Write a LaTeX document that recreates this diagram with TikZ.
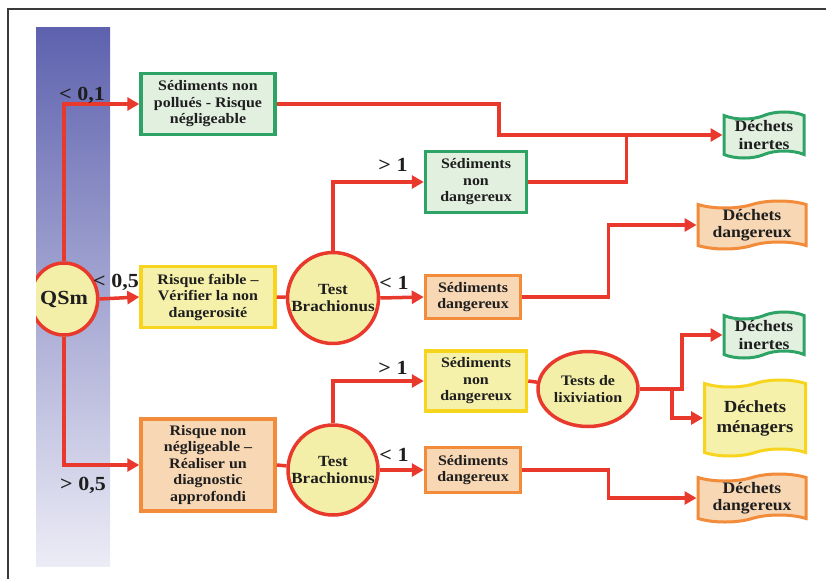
\documentclass[tikz,border=0pt]{standalone}
\usepackage{fontspec}
\setmainfont[FakeStretch=1.1]{Liberation Serif}
\usetikzlibrary{arrows.meta,positioning,shapes.geometric,shapes.symbols,calc}
\definecolor{FlowRed}{HTML}{E8392C}
\definecolor{InkGray}{HTML}{1E1E1E}
\definecolor{FrameGray}{HTML}{3A3A3A}
\definecolor{BarTop}{HTML}{5E62AE}
\definecolor{BarBottom}{HTML}{ECECF6}
\definecolor{SafeGreen}{HTML}{2DA466}
\definecolor{SafeFill}{HTML}{E2F0E0}
\definecolor{WarnYellow}{HTML}{F7D51E}
\definecolor{WarnFill}{HTML}{F5F0AA}
\definecolor{RiskOrange}{HTML}{F28B3A}
\definecolor{RiskFill}{HTML}{F8D7B5}
\definecolor{TestFill}{HTML}{F4EFA8}

\begin{document}
\begin{tikzpicture}[x=1pt, y=-1pt,
        every node/.style={text=InkGray},
        box/.style={rectangle, line width=3.5pt, inner sep=0pt, align=center,
            font=\bfseries\fontsize{14.5}{16.5}\selectfont},
        safebox/.style={box, draw=SafeGreen, fill=SafeFill},
        warnbox/.style={box, draw=WarnYellow, fill=WarnFill},
        riskbox/.style={box, draw=RiskOrange, fill=RiskFill},
        test/.style={ellipse, draw=FlowRed, fill=TestFill, line width=3.5pt, inner sep=0pt,
            align=center, font=\bfseries\fontsize{15.5}{17}\selectfont},
        waste/.style={tape, line width=3pt, inner sep=0pt, align=center, tape bend height=7pt,
            font=\bfseries\fontsize{16}{17.5}\selectfont},
        thr/.style={font=\bfseries\fontsize{20}{20}\selectfont, inner sep=0pt},
        flow/.style={draw=FlowRed, line width=3.5pt, -{Triangle[length=12pt, width=13pt]}},
        link/.style={draw=FlowRed, line width=3.5pt}
    ]
        \useasboundingbox (0,0) rectangle (826,578);

        % Frame and graded QSm scale
        \draw[FrameGray, line width=1.6pt] (8,580) -- (8,9) -- (828,9);
        \shade[top color=BarTop, bottom color=BarBottom] (36,28) rectangle (110,566);

        \begin{scope}
            \clip (36,0) rectangle (826,578);
            \node[test, minimum width=62pt, minimum height=72pt, font=\bfseries\fontsize{20}{20}\selectfont] (qsm) at (64,299) {QSm};
        \end{scope}

        % First column: risk levels
        \node[safebox, minimum width=134pt, minimum height=61pt] (clean) at (208,104) {Sédiments non\\pollués - Risque\\négligeable};
        \node[warnbox, minimum width=134pt, minimum height=61pt] (low) at (208,297) {Risque faible –\\Vérifier la non\\dangerosité};
        \node[riskbox, minimum width=134pt, minimum height=92pt] (high) at (208,465) {Risque non\\négligeable –\\Réaliser un\\diagnostic\\approfondi};

        % Ecotoxicity tests
        \node[test, circle, minimum size=91pt] (brachA) at (333,298) {Test\\Brachionus};
        \node[test, circle, minimum size=90pt] (brachB) at (333,470) {Test\\Brachionus};

        % Test outcomes
        \node[safebox, minimum width=101pt, minimum height=61pt] (safeA) at (476,182) {Sédiments\\non\\dangereux};
        \node[riskbox, minimum width=95pt, minimum height=43pt] (hazA) at (473,297) {Sédiments\\dangereux};
        \node[warnbox, minimum width=101pt, minimum height=60pt] (safeB) at (476,381) {Sédiments\\non\\dangereux};
        \node[riskbox, minimum width=95pt, minimum height=45pt] (hazB) at (473,470) {Sédiments\\dangereux};
        \node[test, minimum width=100pt, minimum height=75pt, font=\bfseries\fontsize{14.5}{16.5}\selectfont] (leach) at (588,389) {Tests de\\lixiviation};

        % Waste categories
        \node[waste, draw=SafeGreen, fill=SafeFill, minimum width=80pt, minimum height=46pt] (inertA) at (764,135) {Déchets\\inertes};
        \node[waste, draw=RiskOrange, fill=RiskFill, minimum width=108pt, minimum height=48pt] (dangerA) at (752,225) {Déchets\\dangereux};
        \node[waste, draw=SafeGreen, fill=SafeFill, minimum width=80pt, minimum height=46pt] (inertB) at (764,335) {Déchets\\inertes};
        \node[waste, draw=WarnYellow, fill=WarnFill, minimum width=101pt, minimum height=76pt, font=\bfseries\fontsize{17}{20}\selectfont] (house) at (755,418) {Déchets\\ménagers};
        \node[waste, draw=RiskOrange, fill=RiskFill, minimum width=108pt, minimum height=48pt] (dangerB) at (752,498) {Déchets\\dangereux};

        % Connectors from QSm
        \draw[flow] (qsm.north) |- (clean.west);
        \draw[flow] (qsm.east) -- (low.west);
        \draw[flow] (qsm.south) |- (high.west);
        \draw[link] (low.east) -- (brachA);
        \draw[link] (high.east) -- (brachB);

        % Connectors from the tests
        \draw[flow] (brachA.north) |- (safeA.west);
        \draw[flow] (brachA.east) -- (hazA.west);
        \draw[flow] (brachB.north) |- (safeB.west);
        \draw[flow] (brachB.east) -- (hazB.west);
        \draw[link] (safeB.east) -- (leach);

        % Connectors to the waste categories
        \draw[flow] (clean.east) -- ++(222,0) |- (inertA.west);
        \draw[link] (safeA.east) -| ($(inertA.west)+(-96,0)$);
        \draw[flow] (hazA.east) -- ++(86,0) |- (dangerA.west);
        \draw[flow] (leach.east) -- ++(42,0) |- (inertB.west);
        \draw[flow] ($(leach.east)+(32,0)$) |- (house.west);
        \draw[flow] (hazB.east) -- ++(86,0) |- (dangerB.west);

        % Thresholds
        \node[thr] (tA) at (82,95) {< 0,1};
        \node[thr] (tB) at (116,282) {< 0,5};
        \node[thr] (tC) at (83,485) {> 0,5};
        \node[thr] (tD) at (393,165) {> 1};
        \node[thr] (tE) at (394,283) {< 1};
        \node[thr] (tF) at (393,368) {> 1};
        \node[thr] (tG) at (394,455) {< 1};
\end{tikzpicture}
\end{document}
